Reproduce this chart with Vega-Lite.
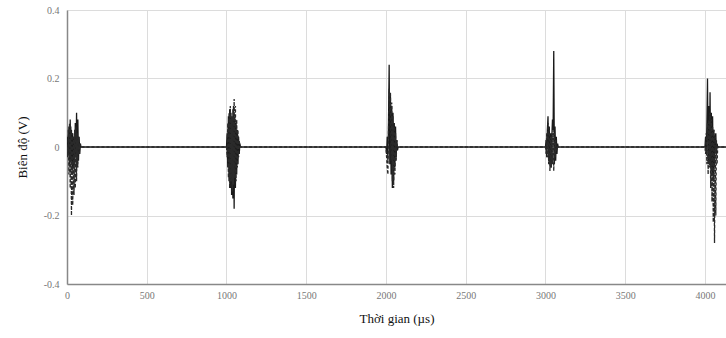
{
  "$schema": "https://vega.github.io/schema/vega-lite/v6.json",
  "autosize": "none",
  "width": 659,
  "height": 274,
  "padding": {"left": 67, "top": 10, "right": 0, "bottom": 54},
  "background": "white",
  "config": {
    "view": {"stroke": null},
    "font": "Liberation Serif"
  },
  "data": {
    "values": [
      {"t": 0, "a": 0, "b": 0}, {"t": 4, "a": 0.03, "b": -0.03}, {"t": 8, "a": -0.02, "b": 0.05}, {"t": 12, "a": 0.06, "b": -0.08},
      {"t": 16, "a": -0.05, "b": 0.07}, {"t": 20, "a": 0.08, "b": -0.12}, {"t": 24, "a": -0.04, "b": 0.06}, {"t": 28, "a": 0.05, "b": -0.2},
      {"t": 32, "a": -0.08, "b": 0.04}, {"t": 36, "a": 0.04, "b": -0.17}, {"t": 40, "a": -0.06, "b": 0.03}, {"t": 44, "a": 0.03, "b": -0.14},
      {"t": 48, "a": -0.05, "b": 0.05}, {"t": 52, "a": 0.07, "b": -0.12}, {"t": 56, "a": -0.03, "b": 0.06}, {"t": 60, "a": 0.1, "b": -0.1},
      {"t": 64, "a": -0.06, "b": 0.04}, {"t": 68, "a": 0.08, "b": -0.06}, {"t": 72, "a": -0.04, "b": 0.03}, {"t": 76, "a": 0.03, "b": -0.02},
      {"t": 80, "a": -0.02, "b": 0.01}, {"t": 84, "a": 0.01, "b": 0}, {"t": 88, "a": 0, "b": 0},
      {"t": 1000, "a": 0, "b": 0}, {"t": 1004, "a": 0.04, "b": -0.03}, {"t": 1008, "a": -0.06, "b": 0.07}, {"t": 1012, "a": 0.09, "b": -0.09},
      {"t": 1016, "a": -0.1, "b": 0.1}, {"t": 1020, "a": 0.11, "b": -0.12}, {"t": 1024, "a": -0.12, "b": 0.12}, {"t": 1028, "a": 0.1, "b": -0.1},
      {"t": 1032, "a": -0.14, "b": 0.09}, {"t": 1036, "a": 0.08, "b": -0.13}, {"t": 1040, "a": -0.15, "b": 0.11}, {"t": 1044, "a": 0.12, "b": -0.11},
      {"t": 1048, "a": -0.18, "b": 0.14}, {"t": 1052, "a": 0.09, "b": -0.09}, {"t": 1056, "a": -0.12, "b": 0.12}, {"t": 1060, "a": 0.07, "b": -0.1},
      {"t": 1064, "a": -0.08, "b": 0.08}, {"t": 1068, "a": 0.05, "b": -0.06}, {"t": 1072, "a": -0.05, "b": 0.05}, {"t": 1076, "a": 0.03, "b": -0.03},
      {"t": 1080, "a": -0.02, "b": 0.02}, {"t": 1084, "a": 0.01, "b": 0}, {"t": 1088, "a": 0, "b": 0},
      {"t": 2000, "a": 0, "b": 0}, {"t": 2004, "a": -0.02, "b": -0.03}, {"t": 2008, "a": 0.03, "b": -0.06}, {"t": 2012, "a": -0.04, "b": -0.08},
      {"t": 2016, "a": 0.08, "b": 0.05}, {"t": 2020, "a": 0.24, "b": 0.17}, {"t": 2024, "a": -0.05, "b": 0.1}, {"t": 2028, "a": 0.15, "b": 0.16},
      {"t": 2032, "a": -0.08, "b": -0.04}, {"t": 2036, "a": 0.12, "b": 0.13}, {"t": 2040, "a": -0.12, "b": -0.1}, {"t": 2044, "a": 0.1, "b": 0.09},
      {"t": 2048, "a": -0.1, "b": -0.12}, {"t": 2052, "a": 0.07, "b": 0.06}, {"t": 2056, "a": -0.06, "b": -0.08}, {"t": 2060, "a": 0.06, "b": 0.04},
      {"t": 2064, "a": -0.03, "b": -0.04}, {"t": 2068, "a": 0.02, "b": 0.02}, {"t": 2072, "a": -0.01, "b": 0}, {"t": 2076, "a": 0, "b": 0},
      {"t": 3000, "a": 0, "b": 0}, {"t": 3004, "a": 0.02, "b": -0.02}, {"t": 3008, "a": -0.03, "b": 0.04}, {"t": 3012, "a": 0.05, "b": -0.03},
      {"t": 3016, "a": 0.09, "b": 0.07}, {"t": 3020, "a": -0.04, "b": -0.05}, {"t": 3024, "a": 0.06, "b": 0.05}, {"t": 3028, "a": -0.05, "b": -0.07},
      {"t": 3032, "a": 0.04, "b": 0.03}, {"t": 3036, "a": -0.06, "b": -0.06}, {"t": 3040, "a": 0.03, "b": 0.04}, {"t": 3044, "a": 0.08, "b": -0.05},
      {"t": 3048, "a": 0.05, "b": 0.05}, {"t": 3052, "a": 0.28, "b": -0.07}, {"t": 3056, "a": -0.05, "b": 0.04}, {"t": 3060, "a": 0.06, "b": -0.03},
      {"t": 3064, "a": -0.04, "b": 0.02}, {"t": 3068, "a": 0.03, "b": -0.01}, {"t": 3072, "a": -0.02, "b": 0}, {"t": 3076, "a": 0.01, "b": 0},
      {"t": 3080, "a": 0, "b": 0},
      {"t": 4000, "a": 0, "b": 0}, {"t": 4004, "a": 0.03, "b": -0.02}, {"t": 4008, "a": -0.02, "b": 0.04}, {"t": 4012, "a": 0.06, "b": -0.05},
      {"t": 4016, "a": 0.2, "b": 0.07}, {"t": 4020, "a": -0.04, "b": -0.08}, {"t": 4024, "a": 0.12, "b": 0.08}, {"t": 4028, "a": -0.05, "b": -0.06},
      {"t": 4032, "a": 0.16, "b": 0.1}, {"t": 4036, "a": -0.06, "b": -0.12}, {"t": 4040, "a": 0.1, "b": 0.08}, {"t": 4044, "a": -0.08, "b": -0.16},
      {"t": 4048, "a": 0.09, "b": 0.06}, {"t": 4052, "a": -0.1, "b": -0.22}, {"t": 4056, "a": 0.05, "b": 0.05}, {"t": 4060, "a": -0.06, "b": -0.28},
      {"t": 4064, "a": 0.03, "b": 0.03}, {"t": 4068, "a": 0.04, "b": -0.2}, {"t": 4072, "a": -0.02, "b": 0.02}, {"t": 4076, "a": 0.01, "b": -0.05},
      {"t": 4080, "a": 0, "b": 0}, {"t": 4132, "a": 0, "b": 0}
    ]
  },
  "transform": [{"fold": ["a", "b"], "as": ["series", "v"]}],
  "mark": {"type": "line", "strokeWidth": 1.3, "clip": true, "interpolate": "linear"},
  "encoding": {
    "x": {
      "field": "t", "type": "quantitative",
      "scale": {"domain": [0, 4132], "nice": false, "zero": false},
      "axis": {
        "values": [0, 500, 1000, 1500, 2000, 2500, 3000, 3500, 4000],
        "labelExpr": "'' + datum.value",
        "title": "Thời gian (µs)",
        "titleFont": "Liberation Serif", "titleFontSize": 13, "titleFontWeight": "normal", "titleColor": "#111",
        "titlePadding": 12,
        "labelFont": "Liberation Serif", "labelFontSize": 10, "labelColor": "#777",
        "labelPadding": 6, "ticks": false, "labelFlush": false,
        "domainColor": "#888", "domainWidth": 1.5,
        "gridColor": "#dcdcdc", "gridWidth": 1
      }
    },
    "y": {
      "field": "v", "type": "quantitative",
      "scale": {"domain": [-0.4, 0.4], "nice": false},
      "axis": {
        "values": [-0.4, -0.2, 0, 0.2, 0.4],
        "labelExpr": "'' + datum.value",
        "title": "Biên độ (V)",
        "titleFont": "Liberation Serif", "titleFontSize": 13, "titleFontWeight": "normal", "titleColor": "#111",
        "titlePadding": 14,
        "labelFont": "Liberation Serif", "labelFontSize": 10, "labelColor": "#777",
        "labelPadding": 8, "ticks": false,
        "domainColor": "#888", "domainWidth": 1.5,
        "gridColor": "#dcdcdc", "gridWidth": 1
      }
    },
    "color": {
      "field": "series", "type": "nominal",
      "scale": {"domain": ["a", "b"], "range": ["#1a1a1a", "#2a2a2a"]},
      "legend": null
    },
    "strokeDash": {
      "field": "series", "type": "nominal",
      "scale": {"domain": ["a", "b"], "range": [[1, 0], [3, 2]]},
      "legend": null
    }
  }
}
